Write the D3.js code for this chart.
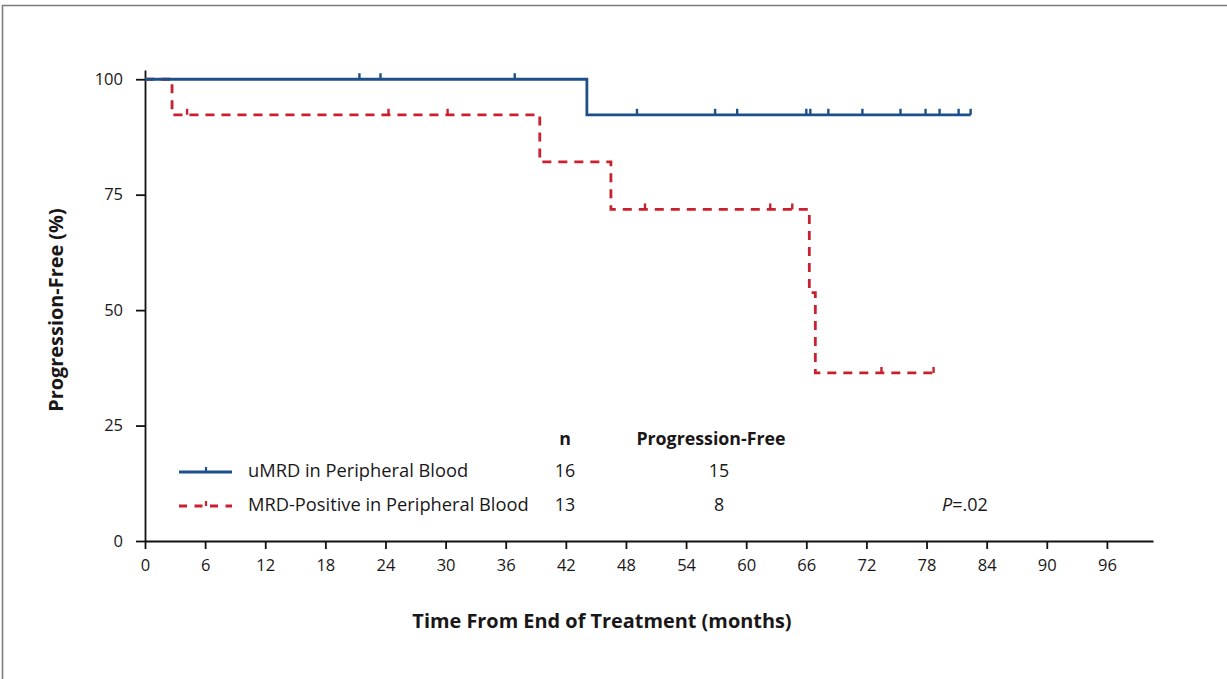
<!DOCTYPE html>
<html>
<head>
<meta charset="utf-8">
<script src="https://cdn.jsdelivr.net/npm/d3@7"></script>
<style>
  html, body { margin: 0; padding: 0; background: #fff; }
  svg { display: block; }
  text { font-family: "Open Sans", "Noto Sans", sans-serif; fill: #1a1718; }
</style>
</head>
<body>
<svg id="chart" width="1227" height="679"></svg>
<script>
// Axis ticks
const timeTicks = [0, 6, 12, 18, 24, 30, 36, 42, 48, 54, 60, 66, 72, 78, 84, 90, 96];
const pfTicks = [0, 25, 50, 75, 100];

// uMRD in peripheral blood: Kaplan-Meier steps (months, % progression-free)
const umrdStepTimes = [0, 44.1];
const umrdStepValues = [100, 92.3];
const umrdLastFollowUp = 82.4;
const umrdCensored = [21.4, 23.5, 36.9, 49.1, 56.9, 59.1, 66.0, 66.4, 68.2, 71.6, 75.4, 77.9, 79.3, 81.2, 82.4];

// MRD-positive in peripheral blood
const mrdStepTimes = [0, 2.7, 39.4, 46.5, 66.3, 66.9];
const mrdStepValues = [100, 92.3, 82.1, 71.8, 53.8, 36.4];
const mrdLastFollowUp = 78.7;
const mrdCensored = [4.2, 24.3, 30.2, 49.9, 62.4, 64.6, 73.5, 78.7];

// Legend table
const groupNames = ["uMRD in Peripheral Blood", "MRD-Positive in Peripheral Blood"];
const groupN = ["16", "13"];
const groupProgressionFree = ["15", "8"];
const pValueText = "=.02";

const BLUE = "#1d4f8a";
const RED = "#c8202e";
const FONT = "'Open Sans', 'Noto Sans', sans-serif";

const svg = d3.select("#chart");

// frame lines along top and left edges
svg.append("path")
  .attr("d", "M2.5,679 V5.5 H1227")
  .attr("fill", "none")
  .attr("stroke", "#7d7d7d")
  .attr("stroke-width", 1.6);

const x = d3.scaleLinear().domain([0, 100.6]).range([145, 1153]);
const y = d3.scaleLinear().domain([0, 102]).range([541, 70]);

// x axis
const xAxis = svg.append("g")
  .attr("transform", `translate(0,${y(0)})`)
  .call(d3.axisBottom(x).tickValues(timeTicks).tickSize(8).tickSizeOuter(0).tickPadding(10));
// y axis
const yAxis = svg.append("g")
  .attr("transform", `translate(${x(0)},0)`)
  .call(d3.axisLeft(y).tickValues(pfTicks).tickSize(9).tickSizeOuter(0).tickPadding(13));

[xAxis, yAxis].forEach(g => {
  g.select(".domain").attr("stroke", "#111").attr("stroke-width", 1.8);
  g.selectAll(".tick line").attr("stroke", "#111").attr("stroke-width", 1.8);
  g.selectAll(".tick text")
    .style("font-family", FONT)
    .style("font-size", "16.5px")
    .attr("fill", "#1a1718");
});

// step-curve points from a KM table
function stepPoints(times, values, last) {
  const pts = [];
  times.forEach((t, i) => {
    if (i > 0) pts.push([t, values[i - 1]]);
    pts.push([t, values[i]]);
  });
  pts.push([last, values[values.length - 1]]);
  return pts;
}
function survivalAt(times, values, t) {
  let v = values[0];
  times.forEach((tt, i) => { if (tt <= t) v = values[i]; });
  return v;
}

const line = d3.line().x(d => x(d[0])).y(d => y(d[1]));

// MRD-positive curve (dashed)
svg.append("path")
  .datum(stepPoints(mrdStepTimes, mrdStepValues, mrdLastFollowUp))
  .attr("d", line)
  .attr("fill", "none")
  .attr("stroke", RED)
  .attr("stroke-width", 2.8)
  .attr("stroke-dasharray", "9,7");

svg.append("g").selectAll("line")
  .data(mrdCensored)
  .join("line")
  .attr("x1", d => x(d)).attr("x2", d => x(d))
  .attr("y1", d => y(survivalAt(mrdStepTimes, mrdStepValues, d)))
  .attr("y2", d => y(survivalAt(mrdStepTimes, mrdStepValues, d)) - 6)
  .attr("stroke", RED)
  .attr("stroke-width", 2.4);

// uMRD curve (solid)
svg.append("path")
  .datum(stepPoints(umrdStepTimes, umrdStepValues, umrdLastFollowUp))
  .attr("d", line)
  .attr("fill", "none")
  .attr("stroke", BLUE)
  .attr("stroke-width", 2.8);

svg.append("g").selectAll("line")
  .data(umrdCensored)
  .join("line")
  .attr("x1", d => x(d)).attr("x2", d => x(d))
  .attr("y1", d => y(survivalAt(umrdStepTimes, umrdStepValues, d)))
  .attr("y2", d => y(survivalAt(umrdStepTimes, umrdStepValues, d)) - 6)
  .attr("stroke", BLUE)
  .attr("stroke-width", 2.4);

// axis titles
svg.append("text")
  .attr("x", 602).attr("y", 628)
  .attr("text-anchor", "middle")
  .style("font-weight", "bold")
  .style("font-size", "19.9px")
  .text("Time From End of Treatment (months)");

svg.append("text")
  .attr("transform", "translate(63,310) rotate(-90)")
  .attr("text-anchor", "middle")
  .style("font-weight", "bold")
  .style("font-size", "19.9px")
  .text("Progression-Free (%)");

// legend
const legendRows = [472, 506];
const legendColors = [BLUE, RED];
const legendDash = [null, "8,7.5"];
legendRows.forEach((ly, i) => {
  svg.append("line")
    .attr("x1", 179).attr("x2", 232).attr("y1", ly).attr("y2", ly)
    .attr("stroke", legendColors[i]).attr("stroke-width", 2.8)
    .attr("stroke-dasharray", legendDash[i]);
  svg.append("line")
    .attr("x1", 206).attr("x2", 206).attr("y1", ly).attr("y2", ly - 5)
    .attr("stroke", legendColors[i]).attr("stroke-width", 2.2);
  svg.append("text")
    .attr("x", 248).attr("y", ly + 5)
    .style("font-size", "18.3px")
    .text(groupNames[i]);
  svg.append("text")
    .attr("x", 565).attr("y", ly + 5)
    .attr("text-anchor", "middle")
    .style("font-size", "17.8px")
    .text(groupN[i]);
  svg.append("text")
    .attr("x", 719).attr("y", ly + 5)
    .attr("text-anchor", "middle")
    .style("font-size", "17.8px")
    .text(groupProgressionFree[i]);
});

svg.append("text")
  .attr("x", 565).attr("y", 445)
  .attr("text-anchor", "middle")
  .style("font-weight", "bold")
  .style("font-size", "17.8px")
  .text("n");
svg.append("text")
  .attr("x", 711).attr("y", 445)
  .attr("text-anchor", "middle")
  .style("font-weight", "bold")
  .style("font-size", "17.8px")
  .text("Progression-Free");

const pText = svg.append("text")
  .attr("x", 965).attr("y", 511)
  .attr("text-anchor", "middle")
  .style("font-size", "18px");
pText.append("tspan").style("font-style", "italic").text("P");
pText.append("tspan").text(pValueText);
</script>
</body>
</html>
